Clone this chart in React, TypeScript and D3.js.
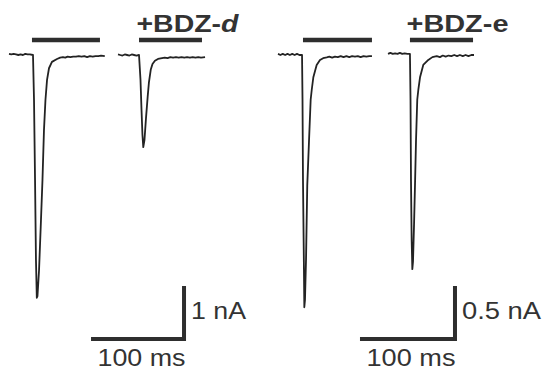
import * as d3 from 'd3';
import React, { useEffect, useRef } from 'react';

// traces: [time (ms), current (nA)], time counted from the start of each panel
const ctrlD: [number, number][] = [
  [0, 0.02], [2.5, 0.01], [5, 0.02], [7.5, 0.01], [10, 0], [12.5, 0.01], [15, 0], [17.5, 0.02],
  [20, 0.01], [22.5, 0.01], [25.8, 0], [26.9, -0.85], [28.0, -2.36], [29.0, -3.87], [29.9, -4.58],
  [30.6, -4.55], [32.3, -4.06], [34.4, -3.11], [36.0, -2.36], [37.6, -1.42], [39.2, -0.85],
  [40.9, -0.47], [43.0, -0.25], [46.2, -0.13], [51.6, -0.075], [55, -0.05], [58, -0.04],
  [60.5, -0.05], [63, -0.03], [66, -0.04], [69, -0.03], [72, -0.03], [75, -0.02], [78, -0.03],
  [81, -0.02], [84, -0.04], [87, -0.02], [90, -0.03], [93, -0.02], [96, -0.02], [99, -0.01], [103, -0.02],
];
const bdzD: [number, number][] = [
  [117.2, 0.01], [119.5, 0], [122, -0.01], [124.5, 0.01], [127, 0], [129.5, -0.01], [132, 0.01],
  [134.5, 0], [137, -0.01], [139.8, 0], [141.4, -0.47], [142.5, -1.04], [143.5, -1.51],
  [144.4, -1.74], [145.7, -1.6], [147.3, -1.19], [149.1, -0.79], [150.5, -0.51], [152.4, -0.28],
  [154.3, -0.17], [156.9, -0.11], [160.2, -0.075], [164.5, -0.06], [167.5, -0.05], [170.5, -0.06],
  [173.5, -0.04], [176.5, -0.05], [179.5, -0.04], [182.5, -0.05], [185.5, -0.04], [188.5, -0.05],
  [191.5, -0.04], [194.5, -0.05], [197.5, -0.04], [200.5, -0.05], [203.5, -0.04], [206.5, -0.05],
  [210.8, -0.04],
];
const ctrlE: [number, number][] = [
  [0, 0.01], [2.5, 0], [5, 0.01], [7.5, 0], [10, 0.01], [12.5, 0], [15, 0.01], [17.5, 0],
  [20, 0.01], [22.5, 0], [25.3, 0], [25.8, -0.42], [26.3, -1.18], [27.1, -1.84], [27.7, -2.38],
  [28.4, -2.31], [29.5, -1.93], [30.8, -1.23], [32.6, -0.82], [34.4, -0.42], [35.5, -0.33],
  [37.2, -0.21], [40.7, -0.094], [44.2, -0.047], [47.5, -0.03], [51.3, -0.022], [54, -0.015],
  [57, -0.025], [60, -0.015], [63, -0.02], [66, -0.01], [69, -0.02], [72, -0.01], [75, -0.02],
  [78, -0.01], [81, -0.015], [84, -0.01], [87, -0.02], [90, -0.01], [93, -0.015], [96, -0.01],
  [98.9, -0.01],
];
const bdzE: [number, number][] = [
  [115.8, 0.01], [118.3, 0.02], [120.8, 0.01], [123.3, 0.015], [125.8, 0.01], [128.3, 0.02],
  [130.8, 0.01], [133.3, 0.015], [136.3, 0.01], [138.9, 0.01], [139.5, -0.43], [140, -1.19],
  [140.7, -1.75], [141.4, -2.02], [142.1, -1.95], [143.2, -1.6], [144.2, -1.23], [145.3, -0.8],
  [146.6, -0.42], [147.7, -0.33], [149.5, -0.21], [152.9, -0.094], [158.2, -0.047], [162.5, -0.02],
  [167.1, -0.01], [170.5, -0.02], [173.5, -0.005], [176.5, -0.015], [179.5, -0.005], [182.5, -0.01],
  [185.5, 0], [188.5, -0.01], [191.5, 0], [194.5, -0.01], [197.5, 0], [200.5, -0.01],
  [203.5, 0], [206.3, 0],
];

// drug application bars [start ms, end ms]
const barsD: [number, number][] = [[24.7, 97.8], [139.8, 207.5]];
const barsE: [number, number][] = [[26.3, 98.9], [138.9, 205.3]];

const labelsD = ['+BDZ-', 'd'];
const labelsE = ['+BDZ-', 'e'];

// scale bars: time length, current length, label texts
const scaleTimeMs = 100;
const scaleAmpD = 1;
const scaleAmpE = 0.5;
const timeLabel = '100 ms';
const ampLabelD = '1 nA';
const ampLabelE = '0.5 nA';

const W = 547;
const H = 370;
const INK = '#232323';
const TEXT = '#333';
const FONT = '"Liberation Sans", Arial, sans-serif';

const App = () => {
  const ref = useRef<SVGSVGElement>(null);

  useEffect(() => {
    const svg = d3.select(ref.current);
    svg.selectAll('*').remove();

    const panels = [
      {
        traces: [ctrlD, bdzD], bars: barsD, label: labelsD, italic: true,
        x: d3.scaleLinear().domain([0, 100]).range([9, 102]),
        y: d3.scaleLinear().domain([0, -1]).range([55, 108]),
        amp: scaleAmpD, ampLabel: ampLabelD, scaleEnd: 188.2, scaleLow: -5.36,
        labelX: 136.5, labelW: 102, ampW: 55, timeW: 88,
      },
      {
        traces: [ctrlE, bdzE], bars: barsE, label: labelsE, italic: false,
        x: d3.scaleLinear().domain([0, 100]).range([278, 373]),
        y: d3.scaleLinear().domain([0, -0.5]).range([55, 108]),
        amp: scaleAmpE, ampLabel: ampLabelE, scaleEnd: 186.3, scaleLow: -2.68,
        labelX: 406.5, labelW: 102, ampW: 79, timeW: 89,
      },
    ];

    panels.forEach(p => {
      const g = svg.append('g');
      const line = d3.line<[number, number]>().x(d => p.x(d[0])).y(d => p.y(d[1]));

      g.selectAll('.trace').data(p.traces).join('path')
        .attr('class', 'trace')
        .attr('fill', 'none')
        .attr('stroke', INK)
        .attr('stroke-width', 1.8)
        .attr('stroke-linejoin', 'round')
        .attr('d', d => line(d));

      // application bars sit 15px above the baseline
      g.selectAll('.bar').data(p.bars).join('line')
        .attr('class', 'bar')
        .attr('x1', d => p.x(d[0]))
        .attr('x2', d => p.x(d[1]))
        .attr('y1', p.y(0) - 15)
        .attr('y2', p.y(0) - 15)
        .attr('stroke', '#2e2e2e')
        .attr('stroke-width', 4.5);

      const lab = g.append('text')
        .attr('x', p.labelX)
        .attr('y', 32)
        .attr('font-family', FONT)
        .attr('font-size', 23.5)
        .attr('font-weight', 'bold')
        .attr('fill', TEXT)
        .attr('textLength', p.labelW)
        .attr('lengthAdjust', 'spacingAndGlyphs');
      lab.append('tspan').text(p.label[0]);
      lab.append('tspan').attr('font-style', p.italic ? 'italic' : 'normal').text(p.label[1]);

      // scale bars
      const xEnd = p.x(p.scaleEnd);
      const xStart = p.x(p.scaleEnd - scaleTimeMs);
      const yLow = p.y(p.scaleLow);
      const yHigh = p.y(p.scaleLow + p.amp);
      g.append('path')
        .attr('d', `M${xStart},${yLow}H${xEnd}V${yHigh}`)
        .attr('fill', 'none')
        .attr('stroke', '#2e2e2e')
        .attr('stroke-width', 4)
        .attr('stroke-linejoin', 'miter');

      g.append('text')
        .attr('x', xEnd + 7)
        .attr('y', 319)
        .attr('font-family', FONT)
        .attr('font-size', 24)
        .attr('fill', TEXT)
        .attr('textLength', p.ampW)
        .attr('lengthAdjust', 'spacingAndGlyphs')
        .text(p.ampLabel);

      g.append('text')
        .attr('x', xStart + 6.5)
        .attr('y', 365.5)
        .attr('font-family', FONT)
        .attr('font-size', 24)
        .attr('fill', TEXT)
        .attr('textLength', p.timeW)
        .attr('lengthAdjust', 'spacingAndGlyphs')
        .text(timeLabel);
    });
  }, []);

  return (
    <div style={{ position: 'absolute', left: 0, top: 0 }}>
      <svg ref={ref} width={W} height={H} style={{ display: 'block', background: '#fff' }} />
    </div>
  );
};

export default App;
